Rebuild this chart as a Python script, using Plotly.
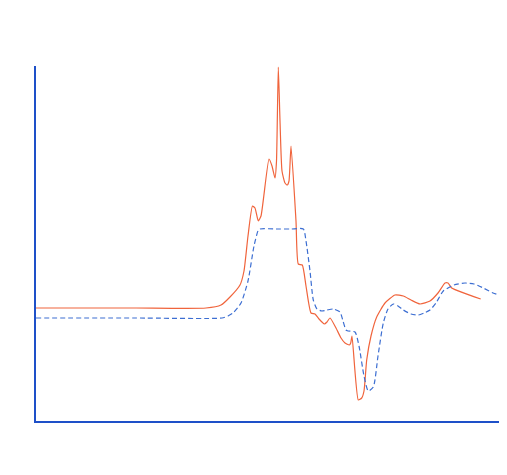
import plotly.graph_objects as go

# orange (solid) series
orange_x = [0, 100, 170, 185, 194, 204, 208, 212, 216.5, 219, 222.3, 225, 233, 236, 239, 240.5, 242.3, 244, 246, 249, 251.3, 253, 255,
            260, 262.3, 266.3, 270, 275, 279, 283, 288.3, 291, 294, 300, 305, 309, 313.3, 314.7, 316, 322.3, 325.7, 328, 330.7,
            335, 340.7, 349, 359, 367.3, 375, 384, 394, 402, 409, 412, 415.7, 444.7]
orange_y = [113, 113, 113, 116, 124, 136, 150, 185, 215, 213, 200, 205, 262, 255, 243, 260, 354, 300, 250, 238, 236, 240, 275,
            200, 157, 156, 135, 108, 107, 102, 97, 99, 103, 93, 83, 78, 76, 78, 85, 21, 23, 30, 61,
            85, 104, 118, 126, 125, 121, 117, 120, 128, 138, 138, 133, 122]

# blue (dashed) series
blue_x = [0, 100, 186, 192, 197, 205, 212, 218, 222, 224, 240, 255, 267.3, 270, 274, 277.3, 281, 285.7, 291, 297.3, 304, 307, 310,
          312, 319, 323, 328, 332.3, 337.3, 342, 347.3, 352, 357.3, 362, 367.3, 375, 382.3, 388, 394, 400, 407.3, 418, 429, 438,
          447.3, 457, 467.3, 470]
blue_y = [103, 103, 103, 105, 108, 118, 140, 175, 190, 192, 192, 192, 192, 180, 150, 121, 112, 110, 111, 112, 109, 100, 91,
          90, 89, 75, 45, 30, 34, 65, 98, 112, 117, 115, 111, 107, 106, 108, 111, 118, 130, 136, 138, 137,
          133, 128, 125, 126]

fig = go.Figure()
fig.add_trace(go.Scatter(x=orange_x, y=orange_y, mode='lines', line_shape='spline',
                         line=dict(color='#f0643c', width=1.2, smoothing=0.5)))
fig.add_trace(go.Scatter(x=blue_x, y=blue_y, mode='lines', line_shape='spline',
                         line=dict(color='#3c6ed2', width=1.2, dash='5px,3px', smoothing=0.6)))

# the page adds an 8px body margin, so the figure is kept inside the window
fig.update_xaxes(range=[0, 463], showgrid=False, zeroline=False, showticklabels=False,
                 showline=True, linecolor='#1e50c8', linewidth=1.5, ticks='')
fig.update_yaxes(range=[0, 355], showgrid=False, zeroline=False, showticklabels=False,
                 showline=True, linecolor='#1e50c8', linewidth=1.5, ticks='')

fig.update_layout(
    width=491, height=430,
    margin=dict(l=28, r=0, t=58, b=17),
    plot_bgcolor='white',
    paper_bgcolor='white',
    showlegend=False
)

fig.write_html("out.html")
